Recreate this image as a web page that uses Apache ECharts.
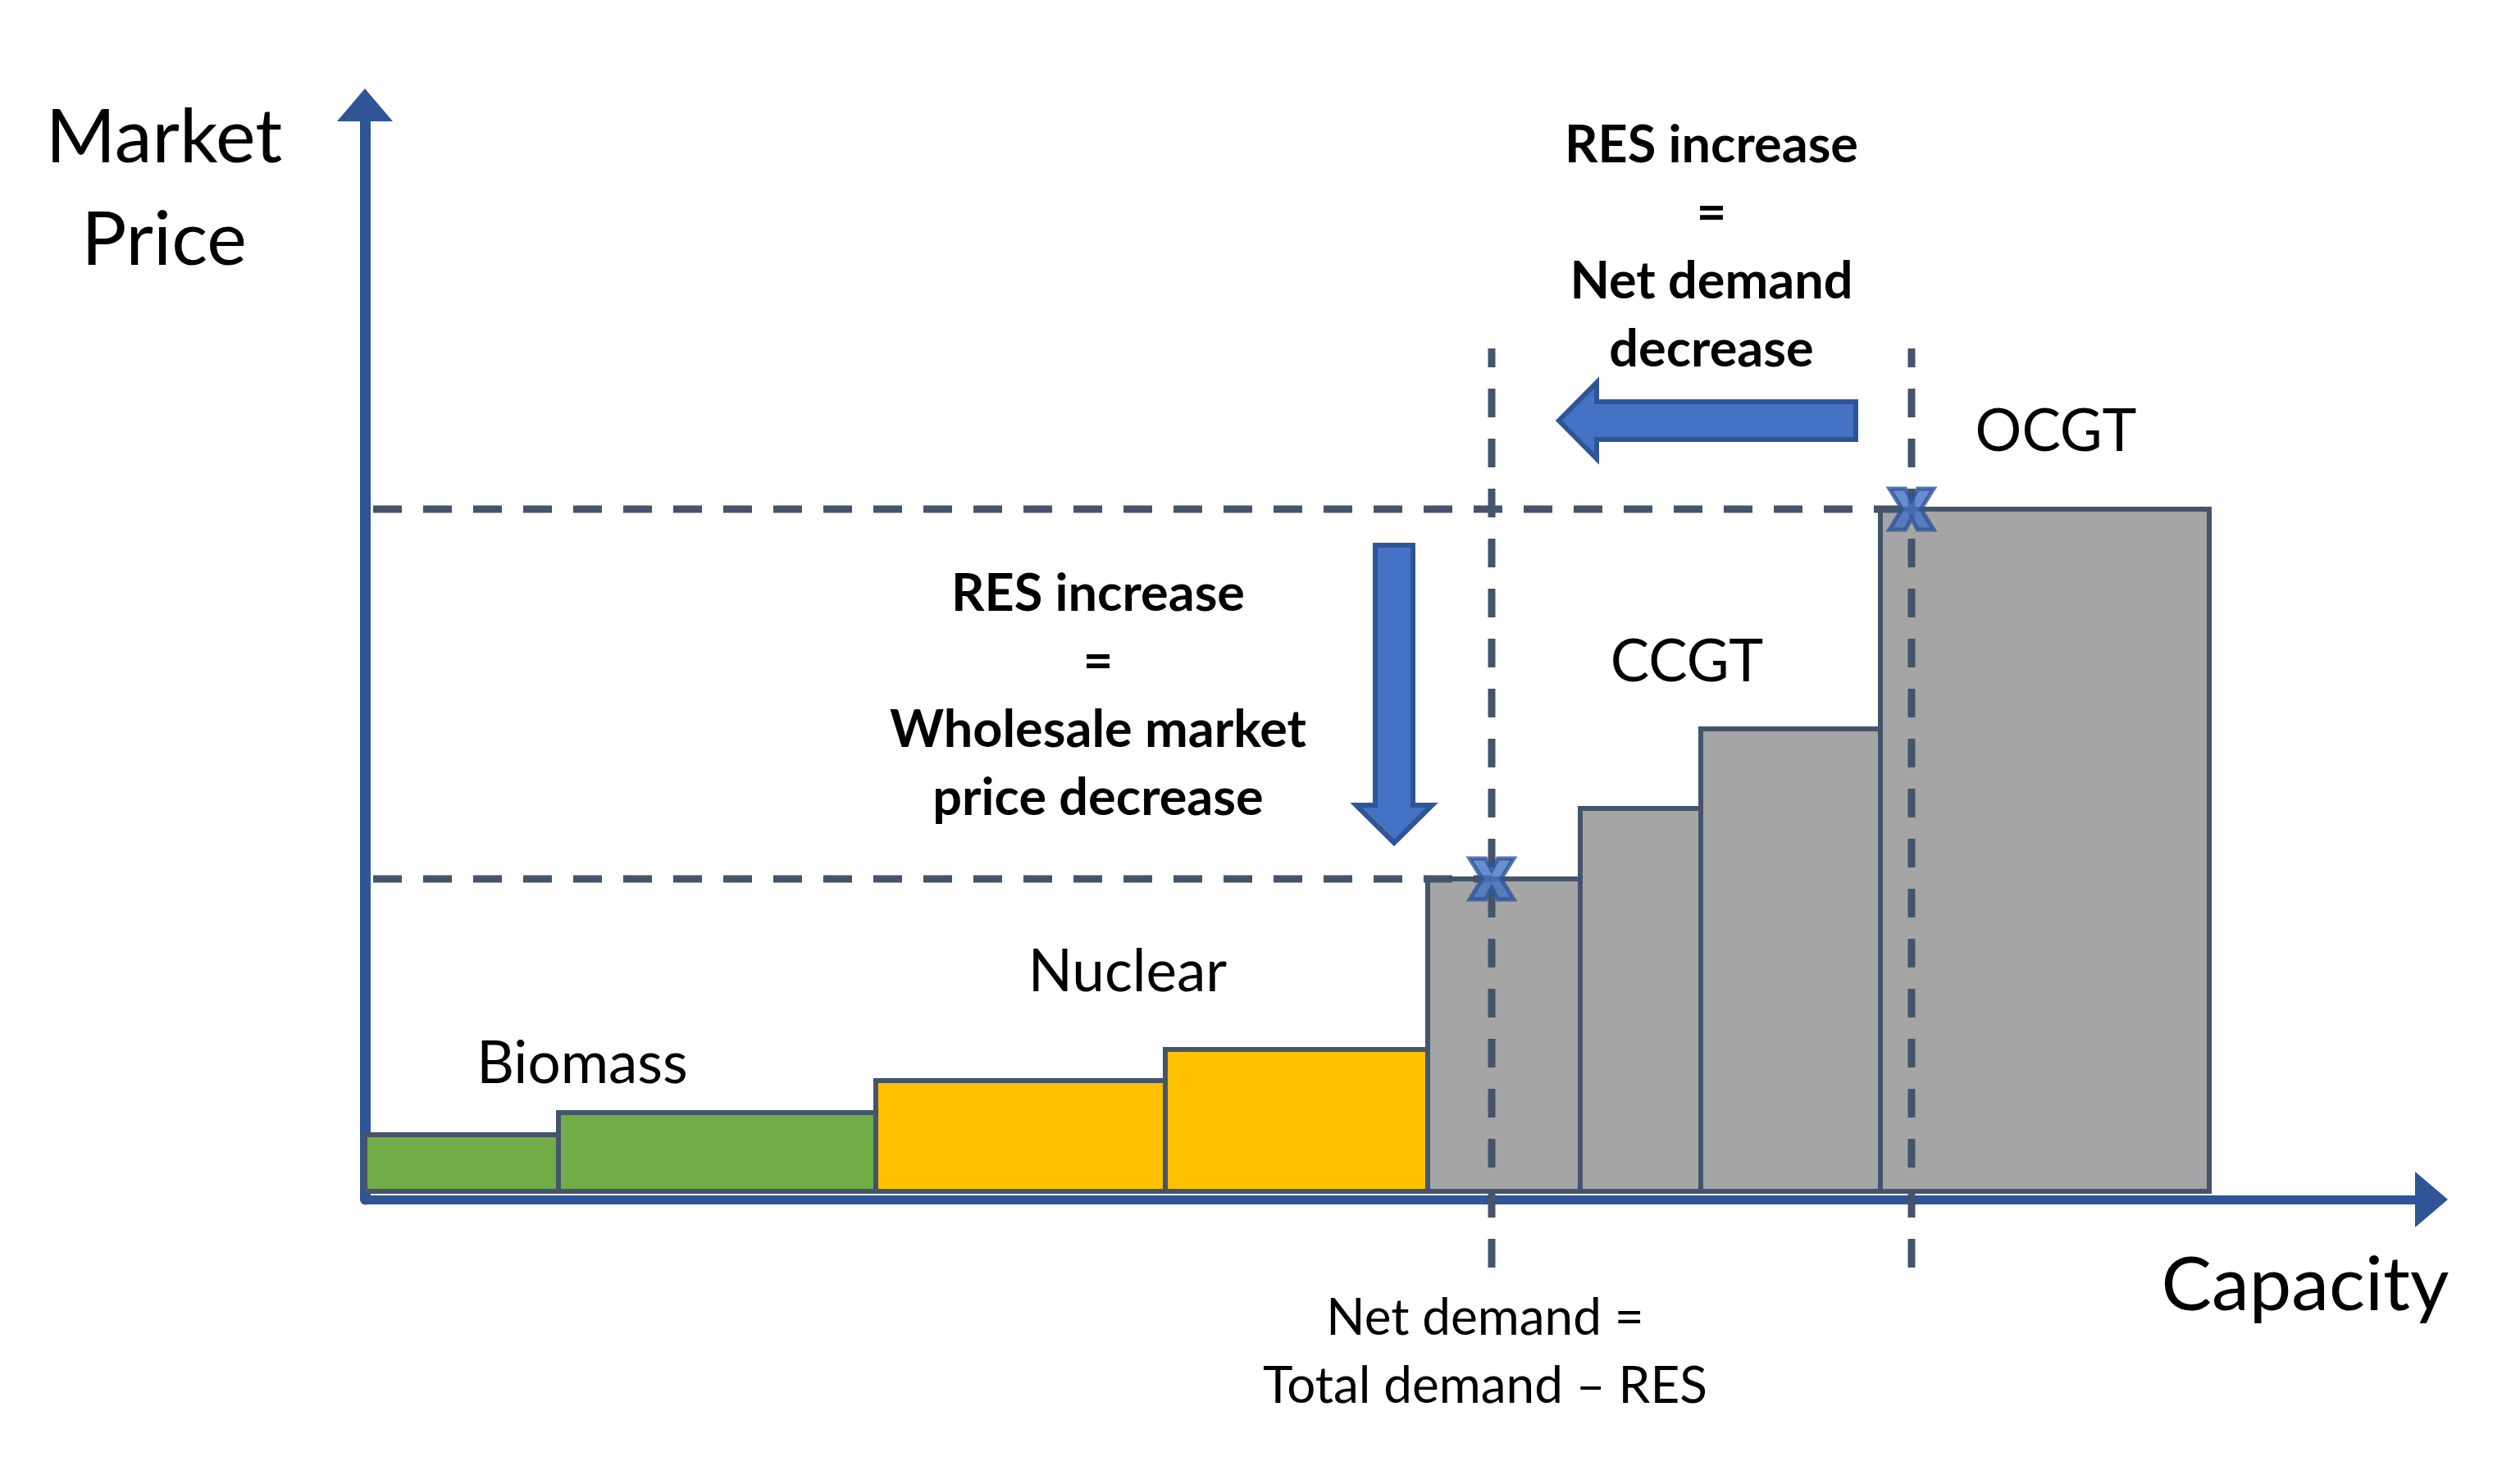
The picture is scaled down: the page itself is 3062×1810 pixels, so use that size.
<!DOCTYPE html>
<html>
<head>
<meta charset="utf-8">
<script src="https://cdn.jsdelivr.net/npm/echarts@6/dist/echarts.min.js"></script>
<style>
html,body{margin:0;padding:0;background:#fff;}
#chart{width:3062px;height:1810px;}
</style>
</head>
<body>
<div id="chart"></div>
<script>
// ---- data ----
const blockStart = [0, 23.6, 62.3, 97.6, 129.6, 148.2, 162.9, 184.8];
const blockEnd   = [23.6, 62.3, 97.6, 129.6, 148.2, 162.9, 184.8, 224.9];
const blockPrice = [6.9, 9.6, 13.5, 17.3, 38.1, 46.7, 56.4, 83.2];
const blockTech  = ['Biomass', 'Biomass', 'Nuclear', 'Nuclear', 'CCGT', 'CCGT', 'CCGT', 'OCGT'];
const techNames  = ['Biomass', 'Nuclear', 'CCGT', 'OCGT'];

// net demand before / after RES increase and the resulting clearing prices
const netDemand     = [188.6, 137.4];
const clearingPrice = [83.2, 38.1];
const demandLineTop = 102.8;
const demandLineBottom = -9.3;
const priceLineStart = 1;

// annotation arrows: [fromCapacity, fromPrice, toCapacity, toPrice]
const arrowPriceDrop  = [125.5, 78.8, 125.5, 42.5];
const arrowDemandDrop = [181.8, 94, 145.6, 94];

// ---- styles ----
const techColor = { Biomass: '#70AD47', Nuclear: '#FFC000', CCGT: '#A5A5A5', OCGT: '#A5A5A5' };
const edgeColor = '#44546A';
const axisColor = '#2F5597';
const arrowFill = '#4472C4';

const blockData = blockStart.map((s, i) => [s, blockEnd[i], blockPrice[i], techNames.indexOf(blockTech[i])]);
const dashData = [
  [netDemand[0], demandLineBottom, netDemand[0], demandLineTop],
  [netDemand[1], demandLineBottom, netDemand[1], demandLineTop],
  [priceLineStart, clearingPrice[0], netDemand[0], clearingPrice[0]],
  [priceLineStart, clearingPrice[1], netDemand[1], clearingPrice[1]]
];
const markerData = netDemand.map((d, i) => [d, clearingPrice[i]]);

const chart = echarts.init(document.getElementById('chart'), null, { renderer: 'canvas' });

function blockArrow(p0, p1, shaftW, headW, headL) {
  const dx = p1[0] - p0[0], dy = p1[1] - p0[1];
  const len = Math.sqrt(dx * dx + dy * dy);
  const ux = dx / len, uy = dy / len;
  const nx = -uy, ny = ux;
  const b = [p1[0] - ux * headL, p1[1] - uy * headL];
  const pt = (base, off) => [base[0] + nx * off, base[1] + ny * off];
  return [
    pt(p0, shaftW / 2), pt(b, shaftW / 2), pt(b, headW / 2), p1,
    pt(b, -headW / 2), pt(b, -shaftW / 2), pt(p0, -shaftW / 2)
  ];
}

const FONT = 'Lato';
const DY = 3;

chart.setOption({
  backgroundColor: '#ffffff',
  animation: false,
  grid: { left: 445, right: 97, top: 128, bottom: 347, containLabel: false },
  xAxis: {
    type: 'value', min: 0, max: 252, z: 1,
    axisLine: { show: true, onZero: false, symbol: ['none', 'triangle'], symbolSize: [68, 40],
      lineStyle: { color: axisColor, width: 11 } },
    axisTick: { show: false }, axisLabel: { show: false }, splitLine: { show: false }
  },
  yAxis: {
    type: 'value', min: -1, max: 132.5, z: 1,
    axisLine: { show: true, onZero: false, symbol: ['none', 'triangle'], symbolSize: [68, 40],
      lineStyle: { color: axisColor, width: 13 } },
    axisTick: { show: false }, axisLabel: { show: false }, splitLine: { show: false }
  },
  series: [
    {
      type: 'custom', name: 'blocks', z: 3,
      encode: { x: [0, 1], y: 2 },
      data: blockData,
      renderItem: function (params, api) {
        const tl = api.coord([api.value(0), api.value(2)]);
        const br = api.coord([api.value(1), 0]);
        return {
          type: 'rect',
          shape: { x: tl[0], y: tl[1], width: br[0] - tl[0], height: br[1] - tl[1] },
          style: { fill: techColor[techNames[api.value(3)]], stroke: edgeColor, lineWidth: 6 }
        };
      }
    },
    {
      type: 'custom', name: 'dashes', z: 4, clip: false,
      encode: { x: [0, 2], y: [1, 3] },
      data: dashData,
      renderItem: function (params, api) {
        const a = api.coord([api.value(0), api.value(1)]);
        const b = api.coord([api.value(2), api.value(3)]);
        return {
          type: 'line',
          shape: { x1: a[0], y1: a[1], x2: b[0], y2: b[1] },
          style: { stroke: edgeColor, lineWidth: 9, lineDash: [35, 26], lineCap: 'butt' }
        };
      }
    },
    {
      type: 'custom', name: 'arrows', z: 5, clip: false,
      encode: { x: [0, 2], y: [1, 3] },
      data: [arrowPriceDrop, arrowDemandDrop],
      renderItem: function (params, api) {
        const a = api.coord([api.value(0), api.value(1)]);
        const b = api.coord([api.value(2), api.value(3)]);
        return {
          type: 'polygon',
          shape: { points: blockArrow(a, b, 46, 93, 46) },
          style: { fill: arrowFill, stroke: axisColor, lineWidth: 6, lineJoin: 'miter' }
        };
      }
    },
    {
      type: 'scatter', name: 'clearing', z: 6,
      data: markerData,
      symbol: 'path://M0,0 L3.6,0 L5,2.8 L6.4,0 L10,0 L7.1,5 L10,10 L6.4,10 L5,7.2 L3.6,10 L0,10 L2.9,5 Z',
      symbolSize: [54, 50],
      itemStyle: { color: arrowFill, borderColor: axisColor, borderWidth: 5 }
    }
  ],
  graphic: [
    { type: 'text', x: 200, y: 102.5 + DY, z: 10, style: { text: 'Market\nPrice', font: '92px ' + FONT, fill: '#000', align: 'center', verticalAlign: 'top', lineHeight: 125 } },
    { type: 'text', x: 2811, y: 1565 + DY, z: 10, style: { text: 'Capacity', font: '92px ' + FONT, fill: '#000', align: 'center', verticalAlign: 'middle' } },
    { type: 'text', x: 2087, y: 133.5 + DY, z: 10, style: { text: 'RES increase\n=\nNet demand\ndecrease', font: 'bold 63px ' + FONT, fill: '#000', align: 'center', verticalAlign: 'top', lineHeight: 83 } },
    { type: 'text', x: 1339, y: 680.5 + DY, z: 10, style: { text: 'RES increase\n=\nWholesale market\nprice decrease', font: 'bold 63px ' + FONT, fill: '#000', align: 'center', verticalAlign: 'top', lineHeight: 83 } },
    { type: 'text', x: 1811, y: 1563.5 + DY, z: 10, style: { text: 'Net demand =\nTotal demand \u2013 RES', font: '62px ' + FONT, fill: '#000', align: 'center', verticalAlign: 'top', lineHeight: 83 } },
    { type: 'text', x: 710, y: 1295 + DY, z: 10, style: { text: 'Biomass', font: '71px ' + FONT, fill: '#000', align: 'center', verticalAlign: 'middle' } },
    { type: 'text', x: 1375, y: 1183 + DY, z: 10, style: { text: 'Nuclear', font: '71px ' + FONT, fill: '#000', align: 'center', verticalAlign: 'middle' } },
    { type: 'text', x: 2057, y: 805 + DY, z: 10, style: { text: 'CCGT', font: '71px ' + FONT, fill: '#000', align: 'center', verticalAlign: 'middle' } },
    { type: 'text', x: 2507, y: 524 + DY, z: 10, style: { text: 'OCGT', font: '71px ' + FONT, fill: '#000', align: 'center', verticalAlign: 'middle' } }
  ]
});
</script>
</body>
</html>
